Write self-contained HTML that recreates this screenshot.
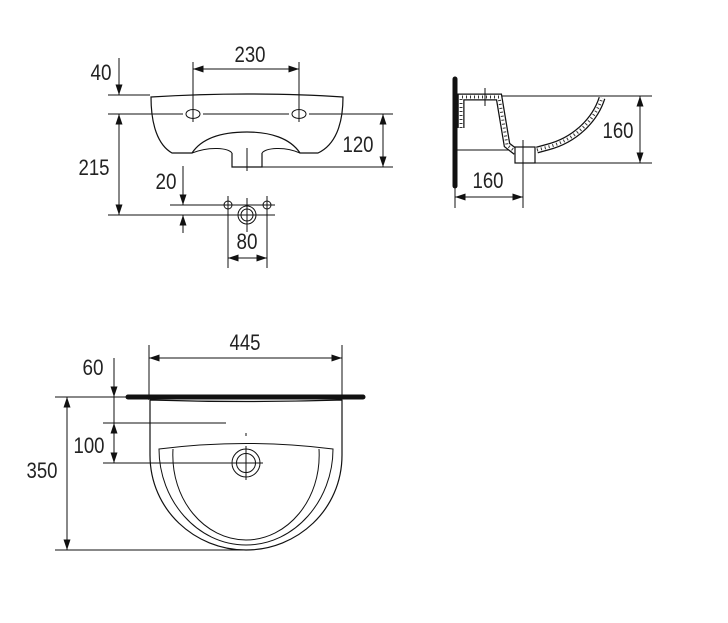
<!DOCTYPE html>
<html><head><meta charset="utf-8"><style>
html,body{margin:0;padding:0;background:#fff;}
svg{display:block;}
text{font-family:"Liberation Sans Narrow","Liberation Sans",sans-serif;font-size:22px;fill:#222;text-anchor:middle;}
</style></head><body>
<svg width="728" height="623" viewBox="0 0 728 623" xmlns="http://www.w3.org/2000/svg">
<defs>
<marker id="a" viewBox="0 0 12 8" refX="12" refY="4" markerWidth="12" markerHeight="7" orient="auto-start-reverse" markerUnits="userSpaceOnUse"><path d="M0,0 L12,4 L0,8 z" fill="#111"/></marker>
</defs>
<g stroke="#111" stroke-width="1" fill="none">
<!-- TOP VIEW -->
<line x1="108" y1="95" x2="150" y2="95"/>
<line x1="108" y1="114" x2="183" y2="114"/>
<line x1="203" y1="114" x2="289" y2="114"/>
<line x1="309" y1="114" x2="393" y2="114"/>
<line x1="119" y1="58" x2="119" y2="95" marker-end="url(#a)"/>
<line x1="119" y1="114" x2="119" y2="215" marker-start="url(#a)" marker-end="url(#a)"/>
<line x1="108" y1="215" x2="275" y2="215"/>
<line x1="193" y1="62" x2="193" y2="122"/>
<line x1="299" y1="62" x2="299" y2="122"/>
<line x1="193" y1="69" x2="299" y2="69" marker-start="url(#a)" marker-end="url(#a)"/>
<path d="M151,97 Q200,94 247,94 Q300,94 343,97 C343,125 335,145 318,153 L300,153 C290,138 270,132 247,132 C222,132 202,138 192,153 L172,153 C158,145 151,125 151,97 Z" stroke-width="1.2"/>
<path d="M192,153 C210,146 228,148 232,153 M300,153 C284,146 266,148 262,153"/>
<path d="M232,153 L232,167 L262,167 L262,153" stroke-width="1.2"/>
<ellipse cx="193" cy="114" rx="7" ry="4.5"/>
<ellipse cx="299" cy="114" rx="7" ry="4.5"/>
<line x1="247" y1="148" x2="247" y2="171"/>
<line x1="262" y1="167" x2="393" y2="167"/>
<line x1="383" y1="114" x2="383" y2="167" marker-start="url(#a)" marker-end="url(#a)"/>
<line x1="183" y1="166" x2="183" y2="205" marker-end="url(#a)"/>
<line x1="183" y1="215" x2="183" y2="233" marker-start="url(#a)"/>
<line x1="170" y1="205" x2="275" y2="205"/>
<circle cx="228" cy="205" r="4"/>
<circle cx="267" cy="205" r="4"/>
<circle cx="247" cy="215" r="9"/>
<circle cx="247" cy="215" r="6"/>
<line x1="247" y1="198" x2="247" y2="232"/>
<line x1="228" y1="196" x2="228" y2="268"/>
<line x1="267" y1="196" x2="267" y2="268"/>
<line x1="228" y1="258" x2="267" y2="258" marker-start="url(#a)" marker-end="url(#a)"/>
<!-- SIDE VIEW -->
<line x1="455" y1="79" x2="455" y2="186" stroke-width="5" stroke-linecap="round"/>
<line x1="500" y1="96" x2="652" y2="96"/>
<line x1="535" y1="163" x2="652" y2="163"/>
<line x1="640" y1="96" x2="640" y2="163" marker-start="url(#a)" marker-end="url(#a)"/>
<line x1="457" y1="150" x2="520" y2="150"/>
<line x1="455" y1="186" x2="455" y2="208"/>
<line x1="523" y1="140" x2="523" y2="208"/>
<line x1="455" y1="197" x2="523" y2="197" marker-start="url(#a)" marker-end="url(#a)"/>
<path d="M461,128 L461,97 L499,97 L507,145 L516,152 M537,150 L548,147 C575,140 595,120 602,98" stroke-width="7"/>
<path d="M461,128 L461,97 L499,97 L507,145 L516,152 M537,150 L548,147 C575,140 595,120 602,98" stroke="#fff" stroke-width="4.5"/>
<path d="M461,128 L461,97 L499,97 L507,145 L516,152 M537,150 L548,147 C575,140 595,120 602,98" stroke="#333" stroke-width="3" stroke-dasharray="1 3"/>
<rect x="515" y="147" width="20" height="16" stroke-width="1.2" fill="#fff"/>
<line x1="485" y1="88" x2="485" y2="106"/>
<line x1="523" y1="140" x2="523" y2="165"/>
<!-- FRONT VIEW -->
<line x1="149" y1="345" x2="149" y2="400"/>
<line x1="342" y1="345" x2="342" y2="400"/>
<line x1="149" y1="358" x2="342" y2="358" marker-start="url(#a)" marker-end="url(#a)"/>
<line x1="128" y1="397" x2="363" y2="397" stroke-width="5" stroke-linecap="round"/>
<line x1="55" y1="397" x2="127" y2="397"/>
<line x1="114" y1="358" x2="114" y2="397" marker-end="url(#a)"/>
<line x1="114" y1="423" x2="114" y2="463" marker-start="url(#a)" marker-end="url(#a)"/>
<line x1="114" y1="397" x2="114" y2="423"/>
<line x1="103" y1="423" x2="226" y2="423"/>
<line x1="103" y1="463" x2="263" y2="463"/>
<line x1="67" y1="397" x2="67" y2="550" marker-start="url(#a)" marker-end="url(#a)"/>
<line x1="55" y1="550" x2="246" y2="550"/>
<path d="M150,400 Q246,403 342,400 M150,400 L150,455 C150,510 195,550 246,550 C297,550 342,510 342,455 L342,400" stroke-width="1.2"/>
<path d="M159,449 Q246,438 333,449 C333,500 295,545 246,545 C197,545 159,500 159,449 Z"/>
<path d="M173,449 C170,500 205,540 246,540 C287,540 322,500 319,449"/>
<circle cx="246" cy="463" r="14"/>
<circle cx="246" cy="463" r="9.5"/>
<line x1="246" y1="446" x2="246" y2="480"/>
<line x1="246" y1="433" x2="246" y2="436"/>
</g>
<text x="101" y="80" textLength="21" lengthAdjust="spacingAndGlyphs">40</text>
<text x="250" y="62" textLength="31" lengthAdjust="spacingAndGlyphs">230</text>
<text x="94" y="175" textLength="31" lengthAdjust="spacingAndGlyphs">215</text>
<text x="358" y="152" textLength="31" lengthAdjust="spacingAndGlyphs">120</text>
<text x="166" y="189" textLength="21" lengthAdjust="spacingAndGlyphs">20</text>
<text x="247" y="249" textLength="21" lengthAdjust="spacingAndGlyphs">80</text>
<text x="618" y="138" textLength="31" lengthAdjust="spacingAndGlyphs">160</text>
<text x="488" y="188" textLength="31" lengthAdjust="spacingAndGlyphs">160</text>
<text x="245" y="350" textLength="31" lengthAdjust="spacingAndGlyphs">445</text>
<text x="93" y="375" textLength="21" lengthAdjust="spacingAndGlyphs">60</text>
<text x="89" y="453" textLength="31" lengthAdjust="spacingAndGlyphs">100</text>
<text x="42" y="478" textLength="31" lengthAdjust="spacingAndGlyphs">350</text>
</svg>
</body></html>
